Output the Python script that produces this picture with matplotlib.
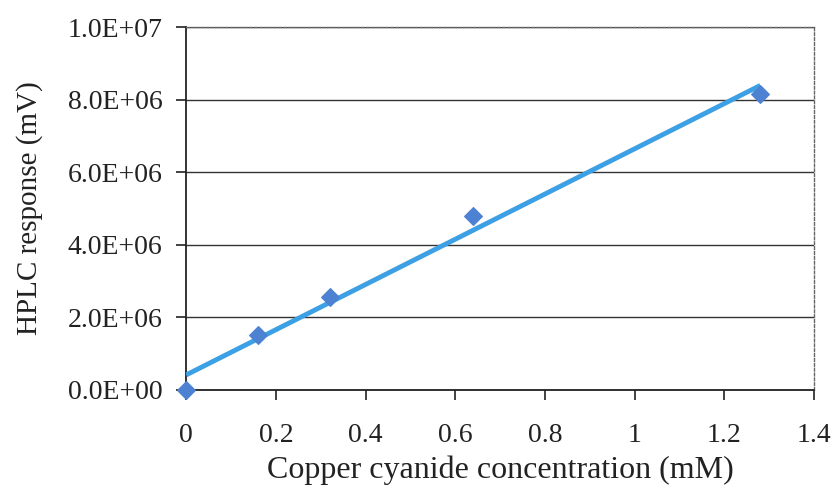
import numpy as np
import matplotlib
matplotlib.use("Agg")
import matplotlib.pyplot as plt
from matplotlib.ticker import FuncFormatter

# calibration points: concentration (mM) vs detector response (mV)
conc = [0.0, 0.16, 0.32, 0.64, 1.28]
response = [0.0, 1.52e6, 2.57e6, 4.78e6, 8.15e6]

x_ticks = [0, 0.2, 0.4, 0.6, 0.8, 1.0, 1.2, 1.4]
y_ticks = [0, 2e6, 4e6, 6e6, 8e6, 1e7]

plt.rcParams['font.family'] = ['Liberation Serif', 'DejaVu Serif']

fig = plt.figure(figsize=(8.35, 4.86), dpi=100)
ax = fig.add_axes([0.223, 0.198, 0.752, 0.746])

# linear trendline through the calibration points
slope, intercept = np.polyfit(conc, response, 1)
fit_x = np.array([0.0, conc[-1]])
ax.plot(fit_x, slope * fit_x + intercept, color='#3ea0e4', linewidth=3.5,
        solid_capstyle='butt', zorder=3)
ax.scatter(conc, response, marker='D', s=80, color='#4d82d2', zorder=4,
           edgecolors='#4d82d2', clip_on=False)

ax.set_xlim(0, 1.4)
ax.set_ylim(0, 1e7)
ax.set_xticks(x_ticks)
ax.set_yticks(y_ticks)
ax.xaxis.set_major_formatter(FuncFormatter(lambda v, p: f"{v:g}"))
ax.yaxis.set_major_formatter(FuncFormatter(lambda v, p: f"{v:.1E}"))

ax.grid(axis='y', color='#333333', linewidth=1.0)
ax.set_axisbelow(True)
ax.tick_params(axis='both', direction='out', length=7, width=1.2,
               labelsize=20, colors='#222222')
ax.tick_params(axis='x', pad=17)
ax.tick_params(axis='y', pad=10)

for side in ['left', 'bottom']:
    ax.spines[side].set_color('#222222')
    ax.spines[side].set_linewidth(1.3)
for side in ['top', 'right']:
    ax.spines[side].set_color('#666666')
    ax.spines[side].set_linewidth(1.0)
    ax.spines[side].set_linestyle((0, (2, 1.5)))

ax.set_xlabel("Copper cyanide concentration (mM)", fontsize=23, color='#222222',
              labelpad=5)
ax.set_ylabel("HPLC response (mV)", fontsize=21, color='#222222', labelpad=18)

fig.savefig("out.png", dpi=100)
